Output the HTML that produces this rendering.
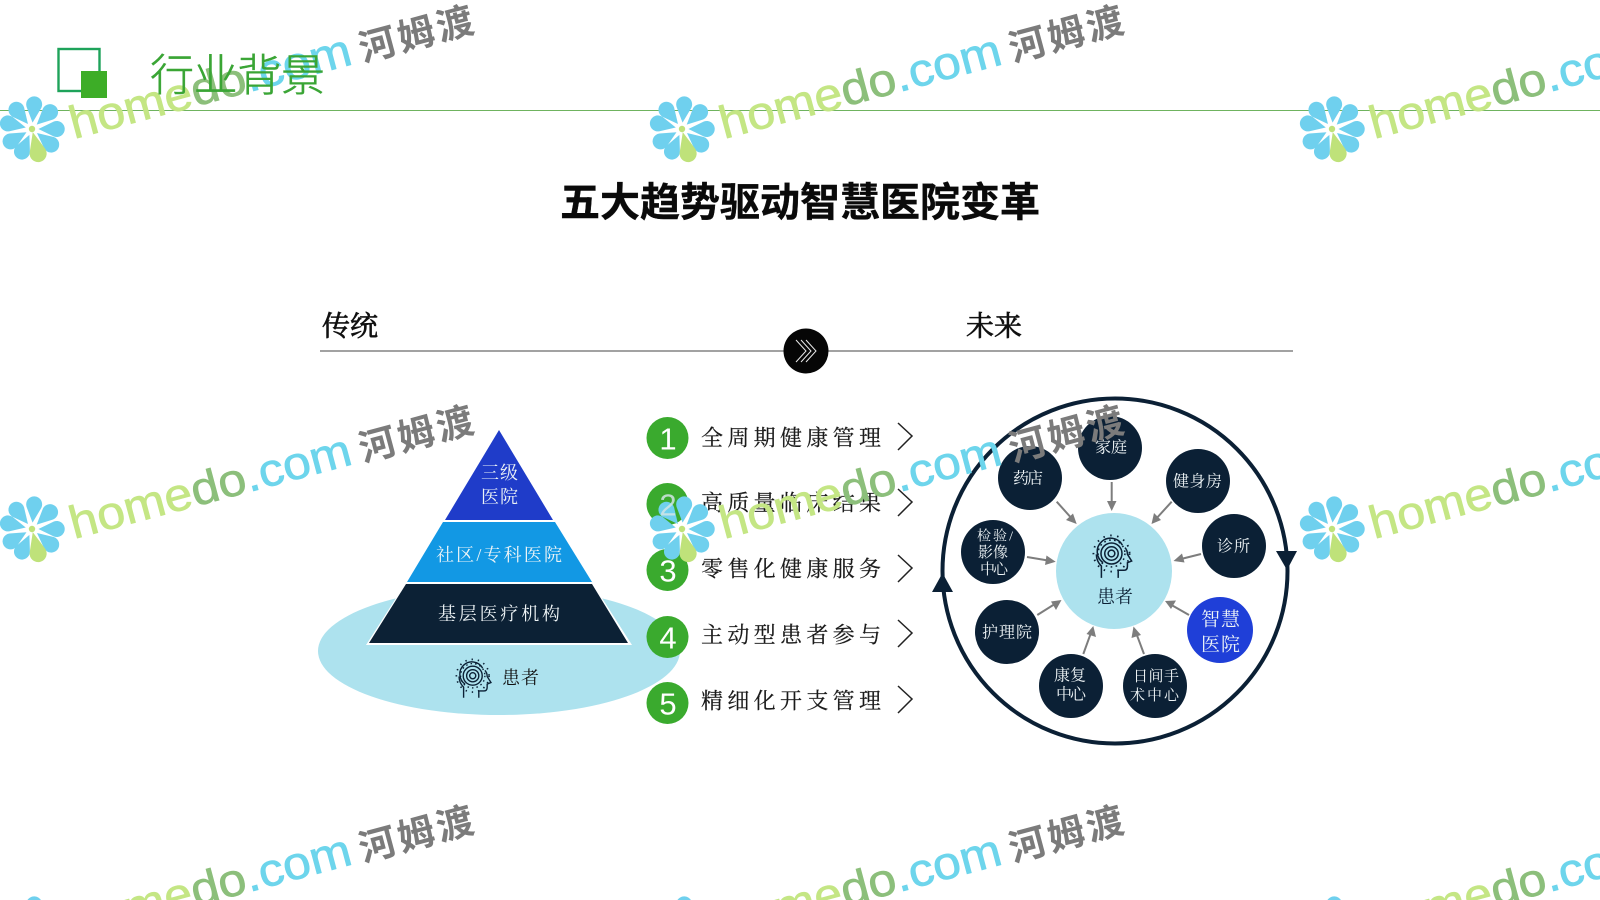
<!DOCTYPE html>
<html lang="zh">
<head>
<meta charset="utf-8">
<title>五大趋势驱动智慧医院变革</title>
<style>
html,body{margin:0;padding:0;background:#fff;width:1600px;height:900px;overflow:hidden}
#wrap{position:relative;width:1600px;height:900px;overflow:hidden}
svg{display:block}
text{font-family:"Liberation Serif","Noto Serif CJK SC",serif;dominant-baseline:central}
.s{font-family:"Liberation Sans","Noto Sans CJK SC",sans-serif}
.n{font-size:16px;fill:#eef4f6}
.l{font-size:22px;fill:#1a1a1a;stroke:#1a1a1a;stroke-width:.2}
.num{font-family:"Liberation Sans",sans-serif;font-size:31px;fill:#fff;text-anchor:middle}
.hd{font-size:28px;fill:#111;stroke:#111;stroke-width:.7}
.wm{font-family:"Liberation Sans",sans-serif;font-size:46px;dominant-baseline:auto;stroke-width:.7}
.h1{fill:#c4e684;stroke:#c4e684}
.h2{fill:#8cbf7b;stroke:#8cbf7b}
.h3{fill:#6dd5ec;stroke:#6dd5ec}
.wc{font-family:"Liberation Sans","Noto Sans CJK SC",sans-serif;font-size:37px;font-weight:700;fill:#7b7b7b;dominant-baseline:auto}
#wm{mix-blend-mode:multiply}
</style>
</head>
<body>
<div id="wrap">
<svg width="1600" height="900" viewBox="0 0 1600 900" xmlns="http://www.w3.org/2000/svg">
<defs>
<clipPath id="pg"><rect x="0" y="0" width="1600" height="900"/></clipPath>
<symbol id="head" viewBox="0 0 50 56" overflow="visible">
  <g fill="none" stroke="#0b2035" stroke-width="1.8">
    <path d="M10 54V40C6 36 4 31 4 26"/>
    <path d="M30 54V45H37C40 45 41 43 41 40V36L46 34L41 26C41 23 40 20 38 18"/>
    <path d="M12 36A16 16 0 1 1 35 15"/>
    <circle cx="22" cy="25" r="4"/>
    <circle cx="22" cy="25" r="8"/>
    <circle cx="22" cy="25" r="12.5"/>
    <circle cx="22" cy="25" r="16" stroke-dasharray="2 4"/>
    <circle cx="22" cy="25" r="21.5" stroke-dasharray="1.8 6.5" stroke-width="2.2"/>
  </g>
</symbol>
<symbol id="fl" viewBox="-30 -30 60 60" overflow="visible">
  <g fill="#6fd0ee">
    <path d="M0 -6L-7 -20.5A7.5 7.5 0 1 1 7 -20.5Z" transform="rotate(5)"/>
    <path d="M0 -6L-7 -20.5A7.5 7.5 0 1 1 7 -20.5Z" transform="rotate(47)"/>
    <path d="M0 -6L-7 -20.5A7.5 7.5 0 1 1 7 -20.5Z" transform="rotate(90)"/>
    <path d="M0 -6L-7 -20.5A7.5 7.5 0 1 1 7 -20.5Z" transform="rotate(129)"/>
    <path d="M0 -6L-7 -20.5A7.5 7.5 0 1 1 7 -20.5Z" transform="rotate(204)"/>
    <path d="M0 -6L-7 -20.5A7.5 7.5 0 1 1 7 -20.5Z" transform="rotate(240)"/>
    <path d="M0 -6L-7 -20.5A7.5 7.5 0 1 1 7 -20.5Z" transform="rotate(283)"/>
    <path d="M0 -6L-7 -20.5A7.5 7.5 0 1 1 7 -20.5Z" transform="rotate(321)"/>
  </g>
  <path d="M0 -3L-7.5 -21A8 8 0 1 1 7.5 -21Z" fill="#bfe27a" transform="rotate(166)"/>
  <circle cx="0" cy="0" r="3" fill="#bfe27a"/>
</symbol>
</defs>

<!-- Header -->
<rect x="58.5" y="49" width="41" height="42" fill="none" stroke="#1ea35a" stroke-width="2.4"/>
<rect x="81" y="71" width="26" height="27" fill="#3dad27"/>
<line x1="0" y1="110.5" x2="1600" y2="110.5" stroke="#6fb35f" stroke-width="1"/>

<text class="s" x="560" y="203" font-size="40" font-weight="700" fill="#0a0a0a" textLength="480" lengthAdjust="spacing" stroke="#0a0a0a" stroke-width=".4">五大趋势驱动智慧医院变革</text>

<!-- Divider -->
<text class="hd" x="322" y="327" textLength="56">传统</text>
<text class="hd" x="966" y="327" textLength="56">未来</text>
<line x1="320" y1="351" x2="1293" y2="351" stroke="#444" stroke-width="1.1"/>
<circle cx="806" cy="351" r="22.5" fill="#060606"/>
<g fill="none" stroke="#e8e8e8" stroke-width="1">
<polyline points="796,340 806,351 796,362"/>
<polyline points="801,340 811,351 801,362"/>
<polyline points="806,340 816,351 806,362"/>
</g>

<!-- Pyramid -->
<ellipse cx="499" cy="651" rx="181" ry="64" fill="#ade2ee"/>
<polygon points="499,430 553,520 445,520" fill="#1f3cc9"/>
<polygon points="443,522 555,522 592,582 407,582" fill="#1298e4"/>
<polygon points="405,584 593,584 632,645 366,645" fill="#fff"/>
<polygon points="406,584 592,584 628,643 369,643" fill="#0c2135"/>
<text class="n" x="481" y="473" style="font-size:18px" textLength="37">三级</text>
<text class="n" x="481" y="497" style="font-size:18px" textLength="37">医院</text>
<text class="n" x="436" y="555" style="font-size:18px" textLength="126">社区/专科医院</text>
<text x="438" y="614" style="font-size:18px;fill:#eef4f6" textLength="122">基层医疗机构</text>
<use href="#head" x="456" y="656" width="38" height="44"/>
<text x="502" y="678" style="font-size:18px;fill:#111" textLength="37">患者</text>

<!-- List -->
<g fill="#3aaa2e">
<circle cx="667.5" cy="438" r="21"/>
<circle cx="667.5" cy="504" r="21"/>
<circle cx="667.5" cy="570" r="21"/>
<circle cx="667.5" cy="637" r="21"/>
<circle cx="667.5" cy="703" r="21"/>
</g>
<text class="num" x="668" y="439">1</text>
<text class="num" x="668" y="571">3</text>
<text class="num" x="668" y="638">4</text>
<text class="num" x="668" y="704">5</text>
<text class="l" x="701" y="438" textLength="180">全周期健康管理</text>
<text class="l" x="701" y="503" textLength="180">高质量临床结果</text>
<text class="l" x="701" y="569" textLength="180">零售化健康服务</text>
<text class="l" x="701" y="635" textLength="180">主动型患者参与</text>
<text class="l" x="701" y="701" textLength="180">精细化开支管理</text>
<g fill="none" stroke="#222" stroke-width="1.5">
<polyline points="898,423 912,436 898,450"/>
<polyline points="898,489 912,502 898,516"/>
<polyline points="898,555 912,568 898,582"/>
<polyline points="898,620 912,633 898,647"/>
<polyline points="898,686 912,699 898,713"/>
</g>

<!-- Ring -->
<circle cx="1115" cy="571" r="172.5" fill="none" stroke="#0b2035" stroke-width="4"/>
<polygon points="1276,551 1297,551 1287,570" fill="#0b2035"/>
<polygon points="932,592 953,592 942.5,573" fill="#0b2035"/>

<!-- Arrows -->
<g stroke="#7d7d7d" stroke-width="2" fill="none">
<line x1="1111.7" y1="482" x2="1111.7" y2="507"/>
<line x1="1171.7" y1="501.7" x2="1155" y2="520"/>
<line x1="1201" y1="554" x2="1177" y2="560"/>
<line x1="1189" y1="615" x2="1168" y2="603"/>
<line x1="1144" y1="654" x2="1135" y2="630"/>
<line x1="1083.3" y1="654" x2="1092" y2="630"/>
<line x1="1037.3" y1="615" x2="1058" y2="602"/>
<line x1="1027" y1="557" x2="1051" y2="561"/>
<line x1="1056.7" y1="501.7" x2="1074" y2="521"/>
</g>
<g fill="#7d7d7d">
<polygon points="1111.7,511 1107,501 1116.5,501"/>
<polygon points="1151.5,524 1154,513 1161,520"/>
<polygon points="1173.5,561 1182,553.5 1184.5,562.5"/>
<polygon points="1165,601 1176,600.5 1171,609"/>
<polygon points="1133.5,626.5 1141,635 1131.5,638"/>
<polygon points="1093.3,626 1096,637 1086.5,634"/>
<polygon points="1061.5,600 1056,610 1051,601.5"/>
<polygon points="1055.7,561.7 1045,565 1046.5,555.5"/>
<polygon points="1076.7,524 1066,520 1073,513.5"/>
</g>

<!-- Centre -->
<circle cx="1114" cy="571" r="58" fill="#ade2ee"/>
<use href="#head" x="1093" y="532" width="42" height="48"/>
<text x="1097" y="597" style="font-size:18px;fill:#0b2035" textLength="36">患者</text>

<!-- Nodes -->
<g fill="#0b2035">
<circle cx="1110" cy="448" r="32"/>
<circle cx="1198" cy="481" r="32"/>
<circle cx="1234" cy="546" r="32"/>
<circle cx="1155" cy="686" r="32"/>
<circle cx="1071" cy="686" r="32"/>
<circle cx="1007" cy="632" r="32"/>
<circle cx="993" cy="552" r="32"/>
<circle cx="1030" cy="478" r="32"/>
</g>
<circle cx="1220" cy="630" r="33" fill="#1f3fd8"/>
<text class="n" x="1095" y="448" textLength="32">家庭</text>
<text class="n" x="1173" y="482" textLength="49">健身房</text>
<text class="n" x="1217" y="547" textLength="33">诊所</text>
<text class="n" x="1201" y="620" style="font-size:19px" textLength="39">智慧</text>
<text class="n" x="1201" y="645" style="font-size:19px" textLength="39">医院</text>
<text class="n" x="1133" y="677" style="font-size:15px" textLength="46">日间手</text>
<text class="n" x="1130" y="696" style="font-size:15px" textLength="49">术中心</text>
<text class="n" x="1054" y="676" textLength="32">康复</text>
<text class="n" x="1056" y="695" textLength="30">中心</text>
<text class="n" x="982" y="633" textLength="50">护理院</text>
<text class="n" x="977" y="537" style="font-size:14px" textLength="36">检验/</text>
<text class="n" x="978" y="553" style="font-size:15px" textLength="30">影像</text>
<text class="n" x="980" y="570" style="font-size:15px" textLength="28">中心</text>
<text class="n" x="1013" y="479" textLength="30">药店</text>

<!-- Watermarks -->
<g clip-path="url(#pg)">
<g id="wm">
<g>
<use href="#fl" x="0" y="97" width="64" height="64"/>
<text class="wm" x="74" y="139" transform="rotate(-15 74 139)" textLength="290" lengthAdjust="spacingAndGlyphs"><tspan class="h1">home</tspan><tspan class="h2">do</tspan><tspan class="h3">.com</tspan></text>
<text class="wc" x="363" y="62" transform="rotate(-15 363 62)" textLength="117">河姆渡</text>
</g>
<g transform="translate(650 0)">
<use href="#fl" x="0" y="97" width="64" height="64"/>
<text class="wm" x="74" y="139" transform="rotate(-15 74 139)" textLength="290" lengthAdjust="spacingAndGlyphs"><tspan class="h1">home</tspan><tspan class="h2">do</tspan><tspan class="h3">.com</tspan></text>
<text class="wc" x="363" y="62" transform="rotate(-15 363 62)" textLength="117">河姆渡</text>
</g>
<g transform="translate(1300 0)">
<use href="#fl" x="0" y="97" width="64" height="64"/>
<text class="wm" x="74" y="139" transform="rotate(-15 74 139)" textLength="290" lengthAdjust="spacingAndGlyphs"><tspan class="h1">home</tspan><tspan class="h2">do</tspan><tspan class="h3">.com</tspan></text>
<text class="wc" x="363" y="62" transform="rotate(-15 363 62)" textLength="117">河姆渡</text>
</g>
<g transform="translate(0 400)">
<use href="#fl" x="0" y="97" width="64" height="64"/>
<text class="wm" x="74" y="139" transform="rotate(-15 74 139)" textLength="290" lengthAdjust="spacingAndGlyphs"><tspan class="h1">home</tspan><tspan class="h2">do</tspan><tspan class="h3">.com</tspan></text>
<text class="wc" x="363" y="62" transform="rotate(-15 363 62)" textLength="117">河姆渡</text>
</g>
<g transform="translate(650 400)">
<use href="#fl" x="0" y="97" width="64" height="64"/>
<text class="wm" x="74" y="139" transform="rotate(-15 74 139)" textLength="290" lengthAdjust="spacingAndGlyphs"><tspan class="h1">home</tspan><tspan class="h2">do</tspan><tspan class="h3">.com</tspan></text>
<text class="wc" x="363" y="62" transform="rotate(-15 363 62)" textLength="117">河姆渡</text>
</g>
<g transform="translate(1300 400)">
<use href="#fl" x="0" y="97" width="64" height="64"/>
<text class="wm" x="74" y="139" transform="rotate(-15 74 139)" textLength="290" lengthAdjust="spacingAndGlyphs"><tspan class="h1">home</tspan><tspan class="h2">do</tspan><tspan class="h3">.com</tspan></text>
<text class="wc" x="363" y="62" transform="rotate(-15 363 62)" textLength="117">河姆渡</text>
</g>
<g transform="translate(0 800)">
<use href="#fl" x="0" y="97" width="64" height="64"/>
<text class="wm" x="74" y="139" transform="rotate(-15 74 139)" textLength="290" lengthAdjust="spacingAndGlyphs"><tspan class="h1">home</tspan><tspan class="h2">do</tspan><tspan class="h3">.com</tspan></text>
<text class="wc" x="363" y="62" transform="rotate(-15 363 62)" textLength="117">河姆渡</text>
</g>
<g transform="translate(650 800)">
<use href="#fl" x="0" y="97" width="64" height="64"/>
<text class="wm" x="74" y="139" transform="rotate(-15 74 139)" textLength="290" lengthAdjust="spacingAndGlyphs"><tspan class="h1">home</tspan><tspan class="h2">do</tspan><tspan class="h3">.com</tspan></text>
<text class="wc" x="363" y="62" transform="rotate(-15 363 62)" textLength="117">河姆渡</text>
</g>
<g transform="translate(1300 800)">
<use href="#fl" x="0" y="97" width="64" height="64"/>
<text class="wm" x="74" y="139" transform="rotate(-15 74 139)" textLength="290" lengthAdjust="spacingAndGlyphs"><tspan class="h1">home</tspan><tspan class="h2">do</tspan><tspan class="h3">.com</tspan></text>
<text class="wc" x="363" y="62" transform="rotate(-15 363 62)" textLength="117">河姆渡</text>
</g>
</g>
</g>

<!-- Elements sitting above the watermark -->
<text class="s" x="150" y="76" font-size="44" fill="#3aa535" stroke="#3aa535" stroke-width=".5" textLength="175" lengthAdjust="spacing" font-weight="300">行业背景</text>
<text class="num" x="668" y="505" style="fill:#d3e6e6" opacity=".85">2</text>
</svg>
</div>
</body>
</html>
